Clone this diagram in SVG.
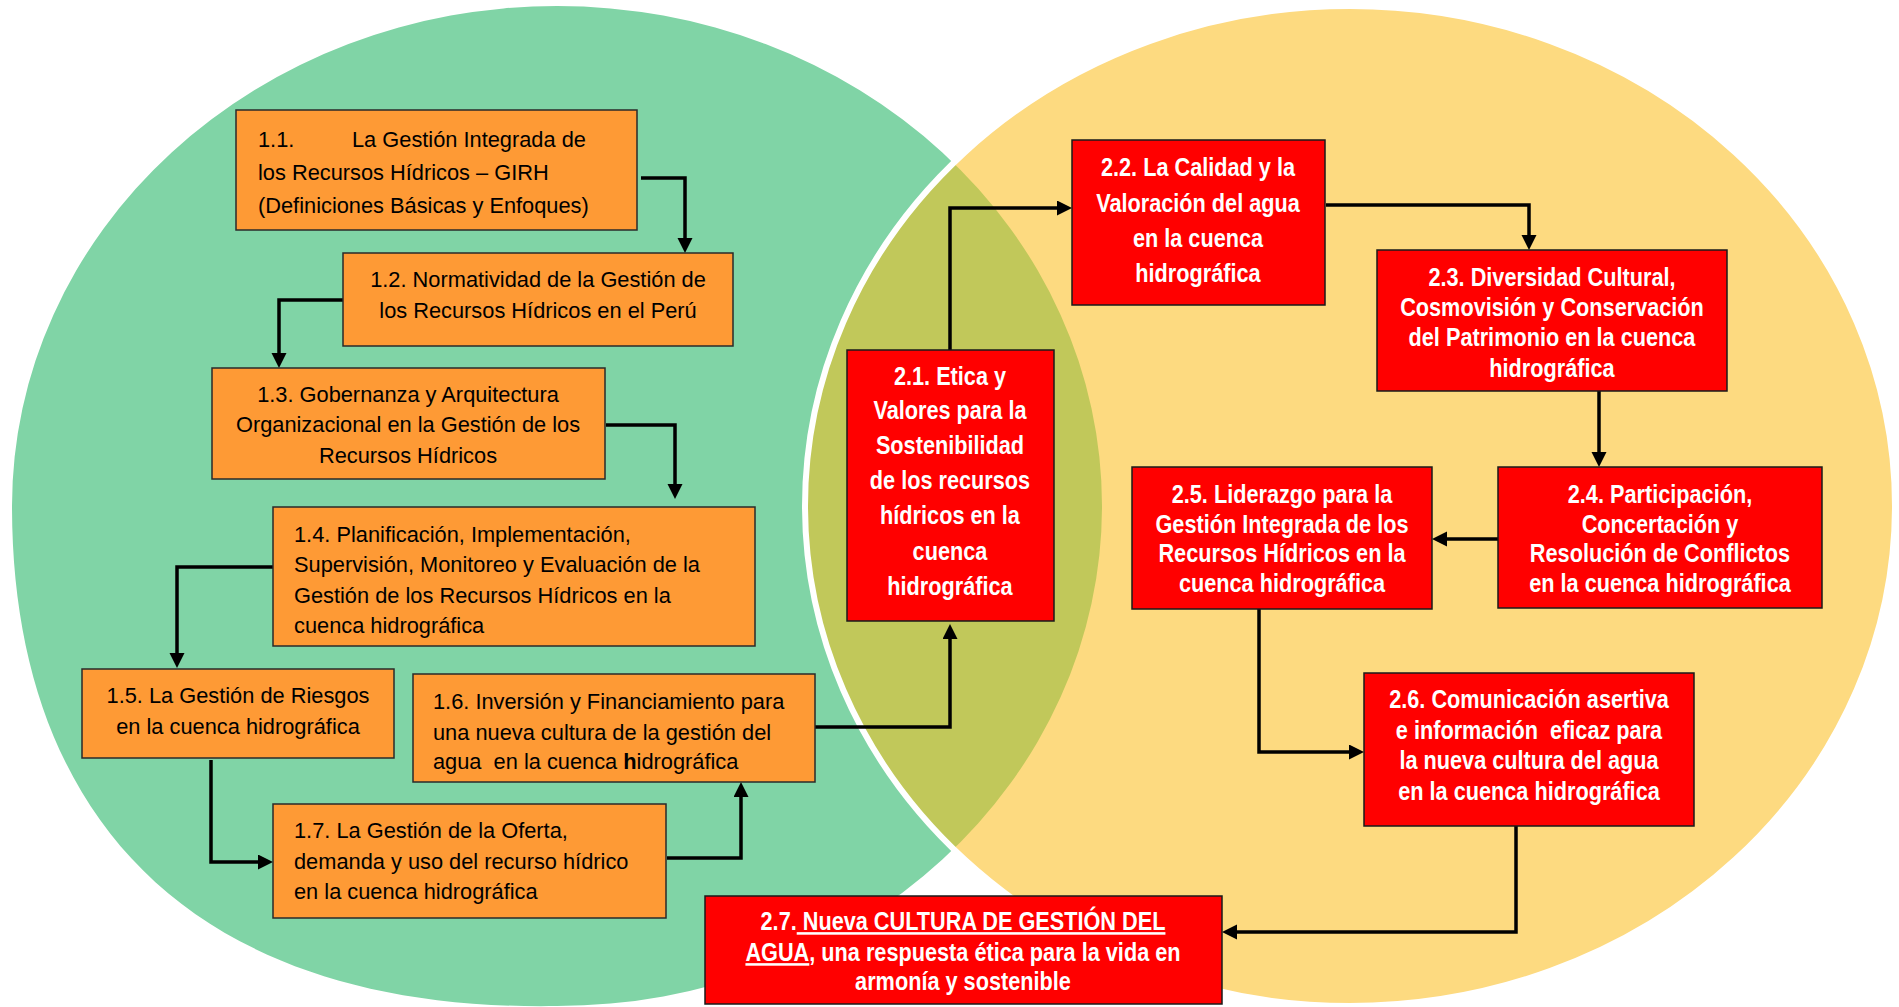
<svg xmlns="http://www.w3.org/2000/svg" width="1899" height="1007" viewBox="0 0 1899 1007">
<style>
.o{fill:#FE9A35;stroke:#2a2a2a;stroke-width:1.5}
.r{fill:#FF0000;stroke:#1a1a1a;stroke-width:1.5}
.t{font-family:"Liberation Sans",Arial,sans-serif;font-size:21.8px;fill:#000;white-space:pre}
.c{text-anchor:middle}
.w{font-family:"Liberation Sans",Arial,sans-serif;font-size:21.7px;font-weight:bold;fill:#fff;text-anchor:middle;white-space:pre}
.conn path{fill:none;stroke:#000;stroke-width:3.5;marker-end:url(#ah)}
</style>
<defs>
<marker id="ah" markerUnits="userSpaceOnUse" markerWidth="16" markerHeight="16" refX="7" refY="7.5" orient="auto">
<path d="M0,0 L15,7.5 L0,15 z" fill="#000"/>
</marker>
<path id="greenShape" d="M557,6 A545,500 0 0 1 557,1006 C190,1012 12,815 12,506 A545,500 0 0 1 557,6 Z"/>
<clipPath id="yclip"><ellipse cx="1350" cy="506" rx="545" ry="500"/></clipPath>
</defs>

<g id="background">
<use href="#greenShape" fill="#80D4A6"/>
<ellipse cx="1350" cy="506" rx="545" ry="500" fill="#FDDA80"/>
<use href="#greenShape" fill="#C1C85A" clip-path="url(#yclip)"/>
<ellipse cx="1350" cy="506" rx="545" ry="500" fill="none" stroke="#fff" stroke-width="6"/>
</g>

<g class="conn" id="connectors">
<path d="M641,178 H685 V245"/>
<path d="M343,300 H279 V360"/>
<path d="M606,425 H675 V491"/>
<path d="M273,567 H177 V660"/>
<path d="M211,760 V862 H265"/>
<path d="M667,858 H741 V790"/>
<path d="M815,727 H950 V632"/>
<path d="M950,350 V208 H1064"/>
<path d="M1326,205 H1529 V242"/>
<path d="M1599,391 V459"/>
<path d="M1498,539 H1440"/>
<path d="M1259,609 V752 H1356"/>
<path d="M1516,826 V932 H1230"/>
</g>

<g id="n1_1">
<rect class="o" x="236" y="110" width="401" height="120"/>
<text class="t"><tspan x="258" y="147">1.1.</tspan><tspan x="352" y="147">La Gestión Integrada de</tspan><tspan x="258" y="180">los Recursos Hídricos – GIRH</tspan><tspan x="258" y="213">(Definiciones Básicas y Enfoques)</tspan></text>
</g>
<g id="n1_2">
<rect class="o" x="343" y="253" width="390" height="93"/>
<text class="t c"><tspan x="538" y="287">1.2. Normatividad de la Gestión de</tspan><tspan x="538" y="318">los Recursos Hídricos en el Perú</tspan></text>
</g>
<g id="n1_3">
<rect class="o" x="212" y="368" width="393" height="111"/>
<text class="t c"><tspan x="408" y="402">1.3. Gobernanza y Arquitectura</tspan><tspan x="408" y="432">Organizacional en la Gestión de los</tspan><tspan x="408" y="463">Recursos Hídricos</tspan></text>
</g>
<g id="n1_4">
<rect class="o" x="273" y="507" width="482" height="139"/>
<text class="t"><tspan x="294" y="542">1.4. Planificación, Implementación,</tspan><tspan x="294" y="572">Supervisión, Monitoreo y Evaluación de la</tspan><tspan x="294" y="603">Gestión de los Recursos Hídricos en la</tspan><tspan x="294" y="633">cuenca hidrográfica</tspan></text>
</g>
<g id="n1_5">
<rect class="o" x="82" y="669" width="312" height="89"/>
<text class="t c"><tspan x="238" y="703">1.5. La Gestión de Riesgos</tspan><tspan x="238" y="734">en la cuenca hidrográfica</tspan></text>
</g>
<g id="n1_6">
<rect class="o" x="413" y="674" width="402" height="108"/>
<text class="t"><tspan x="433" y="709">1.6. Inversión y Financiamiento para</tspan><tspan x="433" y="740">una nueva cultura de la gestión del</tspan><tspan x="433" y="769">agua  en la cuenca <tspan font-weight="bold">h</tspan>idrográfica</tspan></text>
</g>
<g id="n1_7">
<rect class="o" x="273" y="804" width="393" height="114"/>
<text class="t"><tspan x="294" y="838">1.7. La Gestión de la Oferta,</tspan><tspan x="294" y="869">demanda y uso del recurso hídrico</tspan><tspan x="294" y="899">en la cuenca hidrográfica</tspan></text>
</g>

<g id="n2_1">
<rect class="r" x="847" y="350" width="207" height="271"/>
<text class="w" x="950" y="385" transform="matrix(1 0 0 1.18 0 -69.3)">2.1. Etica y</text>
<text class="w" x="950" y="419" transform="matrix(1 0 0 1.18 0 -75.42)">Valores para la</text>
<text class="w" x="950" y="454" transform="matrix(1 0 0 1.18 0 -81.72)">Sostenibilidad</text>
<text class="w" x="950" y="489" transform="matrix(1 0 0 1.18 0 -88.02)">de los recursos</text>
<text class="w" x="950" y="524" transform="matrix(1 0 0 1.18 0 -94.32)">hídricos en la</text>
<text class="w" x="950" y="560" transform="matrix(1 0 0 1.18 0 -100.8)">cuenca</text>
<text class="w" x="950" y="595" transform="matrix(1 0 0 1.18 0 -107.1)">hidrográfica</text>
</g>
<g id="n2_2">
<rect class="r" x="1072" y="140" width="253" height="165"/>
<text class="w" x="1198" y="176" transform="matrix(1 0 0 1.18 0 -31.68)">2.2. La Calidad y la</text>
<text class="w" x="1198" y="212" transform="matrix(1 0 0 1.18 0 -38.16)">Valoración del agua</text>
<text class="w" x="1198" y="247" transform="matrix(1 0 0 1.18 0 -44.46)">en la cuenca</text>
<text class="w" x="1198" y="282" transform="matrix(1 0 0 1.18 0 -50.76)">hidrográfica</text>
</g>
<g id="n2_3">
<rect class="r" x="1377" y="250" width="350" height="141"/>
<text class="w" x="1552" y="286" transform="matrix(1 0 0 1.18 0 -51.48)">2.3. Diversidad Cultural,</text>
<text class="w" x="1552" y="316" transform="matrix(1 0 0 1.18 0 -56.88)">Cosmovisión y Conservación</text>
<text class="w" x="1552" y="346" transform="matrix(1 0 0 1.18 0 -62.28)">del Patrimonio en la cuenca</text>
<text class="w" x="1552" y="377" transform="matrix(1 0 0 1.18 0 -67.86)">hidrográfica</text>
</g>
<g id="n2_4">
<rect class="r" x="1498" y="467" width="324" height="141"/>
<text class="w" x="1660" y="503" transform="matrix(1 0 0 1.18 0 -90.54)">2.4. Participación,</text>
<text class="w" x="1660" y="533" transform="matrix(1 0 0 1.18 0 -95.94)">Concertación y</text>
<text class="w" x="1660" y="562" transform="matrix(1 0 0 1.18 0 -101.16)">Resolución de Conflictos</text>
<text class="w" x="1660" y="592" transform="matrix(1 0 0 1.18 0 -106.56)">en la cuenca hidrográfica</text>
</g>
<g id="n2_5">
<rect class="r" x="1132" y="467" width="300" height="142"/>
<text class="w" x="1282" y="503" transform="matrix(1 0 0 1.18 0 -90.54)">2.5. Liderazgo para la</text>
<text class="w" x="1282" y="533" transform="matrix(1 0 0 1.18 0 -95.94)">Gestión Integrada de los</text>
<text class="w" x="1282" y="562" transform="matrix(1 0 0 1.18 0 -101.16)">Recursos Hídricos en la</text>
<text class="w" x="1282" y="592" transform="matrix(1 0 0 1.18 0 -106.56)">cuenca hidrográfica</text>
</g>
<g id="n2_6">
<rect class="r" x="1364" y="673" width="330" height="153"/>
<text class="w" x="1529" y="708" transform="matrix(1 0 0 1.18 0 -127.44)">2.6. Comunicación asertiva</text>
<text class="w" x="1529" y="739" transform="matrix(1 0 0 1.18 0 -133.02)">e información  eficaz para</text>
<text class="w" x="1529" y="769" transform="matrix(1 0 0 1.18 0 -138.42)">la nueva cultura del agua</text>
<text class="w" x="1529" y="800" transform="matrix(1 0 0 1.18 0 -144)">en la cuenca hidrográfica</text>
</g>
<g id="n2_7">
<rect class="r" x="705" y="896" width="517" height="108"/>
<text class="w" x="963" y="930" transform="matrix(1 0 0 1.18 0 -167.4)">2.7.<tspan text-decoration="underline"> Nueva CULTURA DE GESTIÓN DEL</tspan></text>
<text class="w" x="963" y="961" transform="matrix(1 0 0 1.18 0 -172.98)"><tspan text-decoration="underline">AGUA</tspan>, una respuesta ética para la vida en</text>
<text class="w" x="963" y="990" transform="matrix(1 0 0 1.18 0 -178.2)">armonía y sostenible</text>
</g>
</svg>
